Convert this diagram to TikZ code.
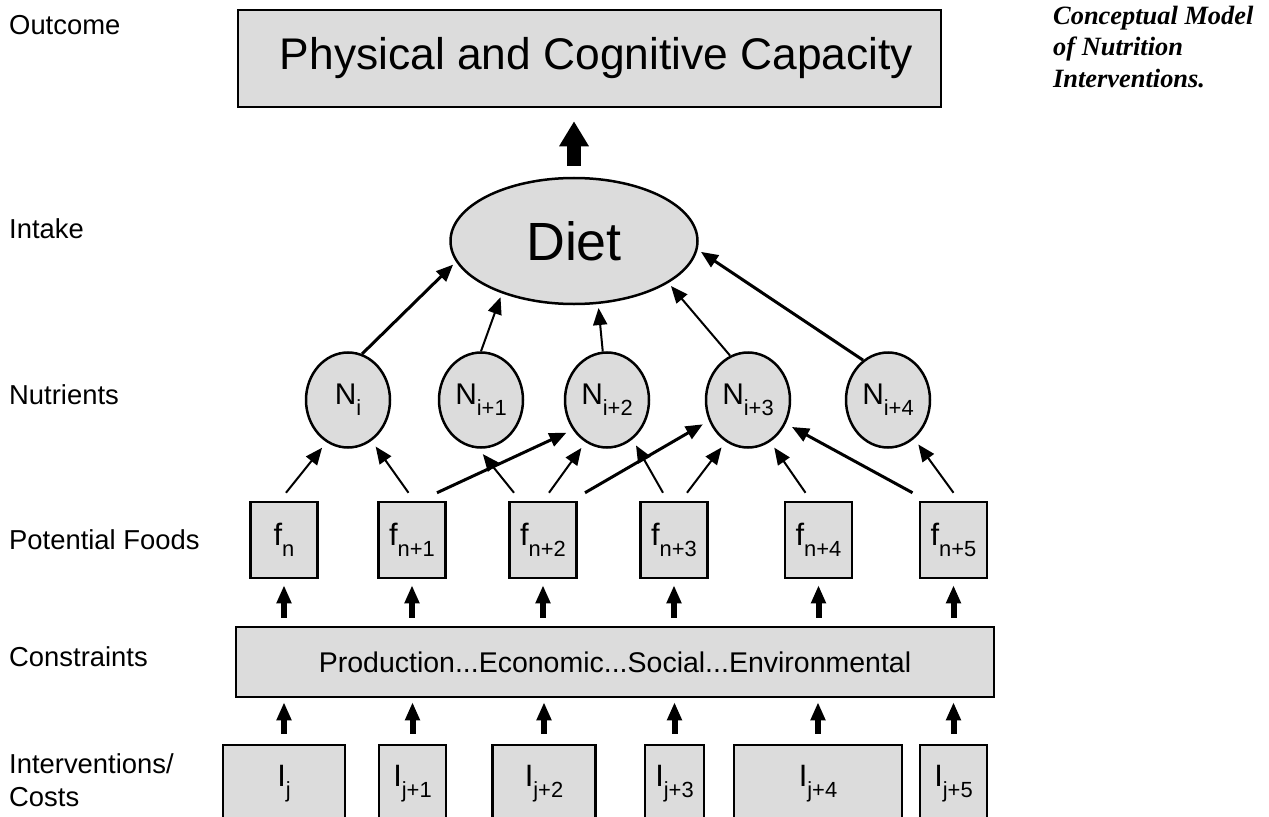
\documentclass[tikz,border=0pt]{standalone}
\usepackage{xcolor}
\usepackage{fontspec}
\setmainfont{Liberation Sans}
\newfontfamily\titlefont{Liberation Serif}
\usepackage{tikz}
\usetikzlibrary{shapes.geometric,arrows.meta}
\definecolor{BoxGray}{HTML}{DCDCDC}
\newcommand{\lo}[1]{\raisebox{-0.36em}{\fontsize{22}{22}\selectfont #1}}

\tikzset{
	box/.style={draw, line width=2.5bp, fill=BoxGray, inner sep=0pt},
	nutrient/.style={ellipse, draw, line width=2.5bp, fill=BoxGray, inner sep=0pt,
		minimum width=84bp, minimum height=95bp, font=\fontsize{30}{30}\selectfont},
	food/.style={box, minimum width=67bp, minimum height=76bp, font=\fontsize{31}{31}\selectfont},
	interv/.style={box, minimum height=78bp, font=\fontsize{31}{31}\selectfont},
	rowlabel/.style={anchor=west, inner sep=0pt, align=left, font=\fontsize{27.5}{33}\selectfont},
	link/.style={line width=2bp, -{Triangle[length=17bp, width=14bp]}},
	boldlink/.style={link, line width=3bp},
	updart/.style={line width=6bp, -{Triangle[length=18bp, width=14bp]}},
	fatarrow/.style={line width=14bp, -{Triangle[length=25bp, width=28bp]}},
}

\begin{document}
\begin{tikzpicture}[x=1bp, y=-1bp]
	\useasboundingbox (0,0) rectangle (1269,817);

	\node[box, minimum width=703bp, minimum height=97bp, font=\fontsize{44.5}{44.5}\selectfont] (outcome) at (589.5,58.5) {\hspace*{14bp}Physical and Cognitive Capacity};
	\node[ellipse, draw, line width=2.5bp, fill=BoxGray, inner sep=0pt, minimum width=247bp, minimum height=126bp, font=\fontsize{54}{54}\selectfont] (diet) at (574,241) {Diet};

	\foreach \x/\sub [count=\i] in {348/i, 481/i+1, 607/i+2, 748/i+3, 888/i+4} {
		\node[nutrient] (N\i) at (\x,400) {N\lo{\sub}};
	}
	\foreach \x/\sub [count=\i] in {284/n, 412/n+1, 543/n+2, 674/n+3, 818.5/n+4, 953.5/n+5} {
		\node[food] (f\i) at (\x,540) {f\lo{\sub}};
	}

	\node[box, minimum width=758bp, minimum height=70bp, font=\fontsize{28.6}{28.6}\selectfont] (cons) at (615,662) {Production...Economic...Social...Environmental};

	\foreach \x/\w/\sub [count=\i] in {284/122/j, 412.5/67/j+1, 544/103/j+2, 674.5/59/j+3, 818/168/j+4, 953.5/67/j+5} {
		\node[interv, minimum width=\w bp] (I\i) at (\x,784) {I\lo{\sub}};
	}

	% arrows
	\draw[fatarrow, shorten <=11bp, shorten >=13bp] (diet.north) -- (diet.north |- outcome.south);

	\foreach \src/\ang/\tgt/\sty in {N1/73/190/boldlink, N2/90/216/link, N3/95/291/link, N4/112/336/link, N5/122/356/boldlink} {
		\draw[\sty, shorten >=4bp] (\src.\ang) -- (diet.\tgt);
	}

	\foreach \src/\dx/\tgt/\ang/\sty in {f1/2/N1/243/link, f2/-3.5/N1/300/link, f2/25/N3/221/boldlink,
		f3/-29/N2/267/link, f3/6/N3/243/link, f3/42/N4/208/boldlink, f4/-11/N3/303/link,
		f4/13/N4/242/link, f5/-13/N4/298/link, f6/-41/N4/328/boldlink, f6/0/N5/304/link} {
		\draw[\sty, shorten >=7bp] ([xshift=\dx bp, yshift=8bp]\src.north) -- (\tgt.\ang);
	}

	\foreach \i in {1,...,6} {
		\draw[updart, shorten <=8bp, shorten >=6bp] (f\i.south |- cons.north) -- (f\i.south);
		\draw[updart, shorten <=10bp, shorten >=4bp] (I\i.north) -- (I\i.north |- cons.south);
	}

	% row labels
	\foreach \y/\text in {25/Outcome, 229/Intake, 395/Nutrients, 540/Potential Foods, 657/Constraints, 780/{Interventions/\\Costs}} {
		\node[rowlabel] (lbl) at (9,\y) {\text};
	}

	\node[anchor=north west, inner sep=0pt, align=left, font=\titlefont\bfseries\itshape\fontsize{26.5}{31.5}\selectfont] (title) at (1053,6) {Conceptual Model\\of Nutrition\\Interventions.};
\end{tikzpicture}
\end{document}
